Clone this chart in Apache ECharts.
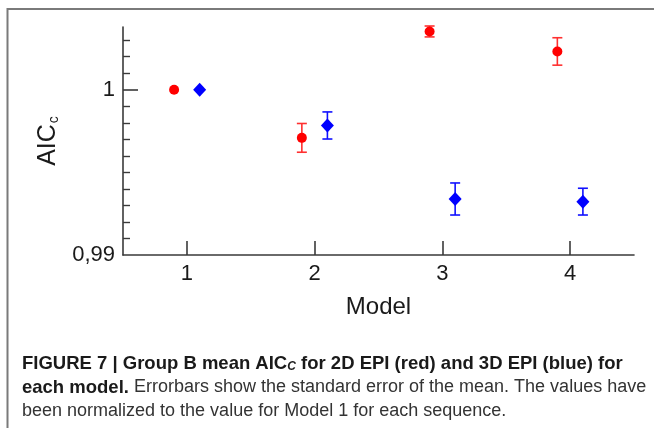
<!DOCTYPE html>
<html><head><meta charset="utf-8">
<script src="https://cdn.jsdelivr.net/npm/echarts@6/dist/echarts.min.js"></script>
<style>html,body{margin:0;padding:0;background:#fff}#c{width:654px;height:428px}</style>
</head><body><div id="c"></div>
<script>
const models = [1, 2, 3, 4];
const xTickLabels = ['1', '2', '3', '4'];
const red2D = [1.0, 0.99709, 1.00353, 1.00232];
const red2DErr = [0.0, 0.00087, 0.00033, 0.00083];
const blue3D = [1.0, 0.99784, 0.99339, 0.99323];
const blue3DErr = [0.0, 0.00082, 0.00097, 0.00081];
const yLabelValues = [0.99, 1];
const yLabelTexts = ['0,99', '1'];
const yMinorTicks = [0.991, 0.992, 0.993, 0.994, 0.995, 0.996, 0.997, 0.998, 0.999, 1.001, 1.002, 1.003];
const yMajorTicks = [1];
const xShift = 0.1;

const FONT = '"Liberation Sans", Arial, sans-serif';
const chart = echarts.init(document.getElementById('c'), null, {renderer: 'canvas'});

function pts(vals, errs, sh) { return models.map((m, i) => [m + sh, vals[i], errs[i]]); }
const redPts = pts(red2D, red2DErr, -xShift);
const bluePts = pts(blue3D, blue3DErr, xShift);

function errRender(color) {
  return function (params, api) {
    const x = api.value(0), y = api.value(1), e = api.value(2);
    if (!e) return null;
    const t = api.coord([x, y + e]), b = api.coord([x, y - e]);
    const h = 5, st = {stroke: color, lineWidth: 1.6};
    return {type: 'group', children: [
      {type: 'line', shape: {x1: t[0], y1: t[1], x2: b[0], y2: b[1]}, style: st},
      {type: 'line', shape: {x1: t[0] - h, y1: t[1], x2: t[0] + h, y2: t[1]}, style: st},
      {type: 'line', shape: {x1: b[0] - h, y1: b[1], x2: b[0] + h, y2: b[1]}, style: st}
    ]};
  };
}

const axisColor = '#3a3a3a';
chart.setOption({
  animation: false,
  grid: {left: 123, right: 20, top: 27, bottom: 173, containLabel: false},
  xAxis: {
    type: 'value', min: 0.5, max: 4.5,
    name: 'Model', nameLocation: 'middle', nameGap: 40,
    nameTextStyle: {fontFamily: FONT, fontSize: 24, color: '#1a1a1a'},
    axisLine: {show: true, lineStyle: {color: axisColor, width: 1.6}},
    axisTick: {show: true, inside: true, length: 14, customValues: models, lineStyle: {color: axisColor, width: 1.6}},
    axisLabel: {customValues: models, formatter: v => xTickLabels[models.indexOf(v)], fontFamily: FONT, fontSize: 22, color: '#1a1a1a', margin: 8},
    splitLine: {show: false}
  },
  yAxis: [{
    type: 'value', min: 0.99, max: 1.0038,
    name: '{a|AIC}{s|c}', nameLocation: 'middle', nameGap: 62, nameRotate: 90,
    nameTextStyle: {rich: {
      a: {fontFamily: FONT, fontSize: 25, color: '#1a1a1a', lineHeight: 28, verticalAlign: 'bottom'},
      s: {fontFamily: FONT, fontSize: 14, color: '#1a1a1a', lineHeight: 14, verticalAlign: 'bottom', padding: [0, 0, 0, 1]}
    }},
    axisLine: {show: true, onZero: false, lineStyle: {color: axisColor, width: 1.6}},
    axisTick: {show: true, inside: true, length: 7, customValues: yMinorTicks, lineStyle: {color: axisColor, width: 1.4}},
    axisLabel: {customValues: yLabelValues, formatter: v => yLabelTexts[yLabelValues.findIndex(u => Math.abs(u - v) < 1e-9)], fontFamily: FONT, fontSize: 22, color: '#1a1a1a', margin: 8},
    splitLine: {show: false}
  }, {
    type: 'value', min: 0.99, max: 1.0038, position: 'left',
    axisLine: {show: false},
    axisTick: {show: true, inside: true, length: 15, customValues: yMajorTicks, lineStyle: {color: axisColor, width: 1.6}},
    axisLabel: {show: false},
    splitLine: {show: false}
  }],
  series: [
    {type: 'custom', renderItem: errRender('#ff3030'), data: redPts, z: 2},
    {type: 'custom', renderItem: errRender('#1010ff'), data: bluePts, z: 2},
    {type: 'scatter', data: redPts, symbol: 'circle', symbolSize: 10, itemStyle: {color: '#ff0000', opacity: 1}, z: 3},
    {type: 'scatter', data: bluePts, symbol: 'diamond', symbolSize: [13, 14], itemStyle: {color: '#0000ff', opacity: 1}, z: 3}
  ],
  graphic: [
    {type: 'polyline', shape: {points: [[7.5, 428], [7.5, 9], [654, 9]]}, style: {stroke: '#7a7a7a', lineWidth: 2, fill: null}},
    {type: 'text', left: 22, top: 354, style: {
      text: '{b|FIGURE 7 | Group B mean AIC}{bs|C}{b| for 2D EPI (red) and 3D EPI (blue) for}',
      rich: {
        b: {fontFamily: FONT, fontWeight: 'bold', fontSize: 18.5, fill: '#1a1a1a', lineHeight: 20, verticalAlign: 'bottom'},
        bs: {fontFamily: FONT, fontWeight: 'bold', fontStyle: 'italic', fontSize: 12, fill: '#1a1a1a', lineHeight: 12, verticalAlign: 'bottom'}
      }}},
    {type: 'text', left: 22, top: 378, style: {
      text: '{b|each model.}{n| Errorbars show the standard error of the mean. The values have}',
      rich: {
        b: {fontFamily: FONT, fontWeight: 'bold', fontSize: 18.5, fill: '#1a1a1a'},
        n: {fontFamily: FONT, fontSize: 18, fill: '#333'}
      }}},
    {type: 'text', left: 22, top: 402, style: {
      text: 'been normalized to the value for Model 1 for each sequence.',
      fontFamily: FONT, fontSize: 18, fill: '#333'}}
  ]
});
</script></body></html>
